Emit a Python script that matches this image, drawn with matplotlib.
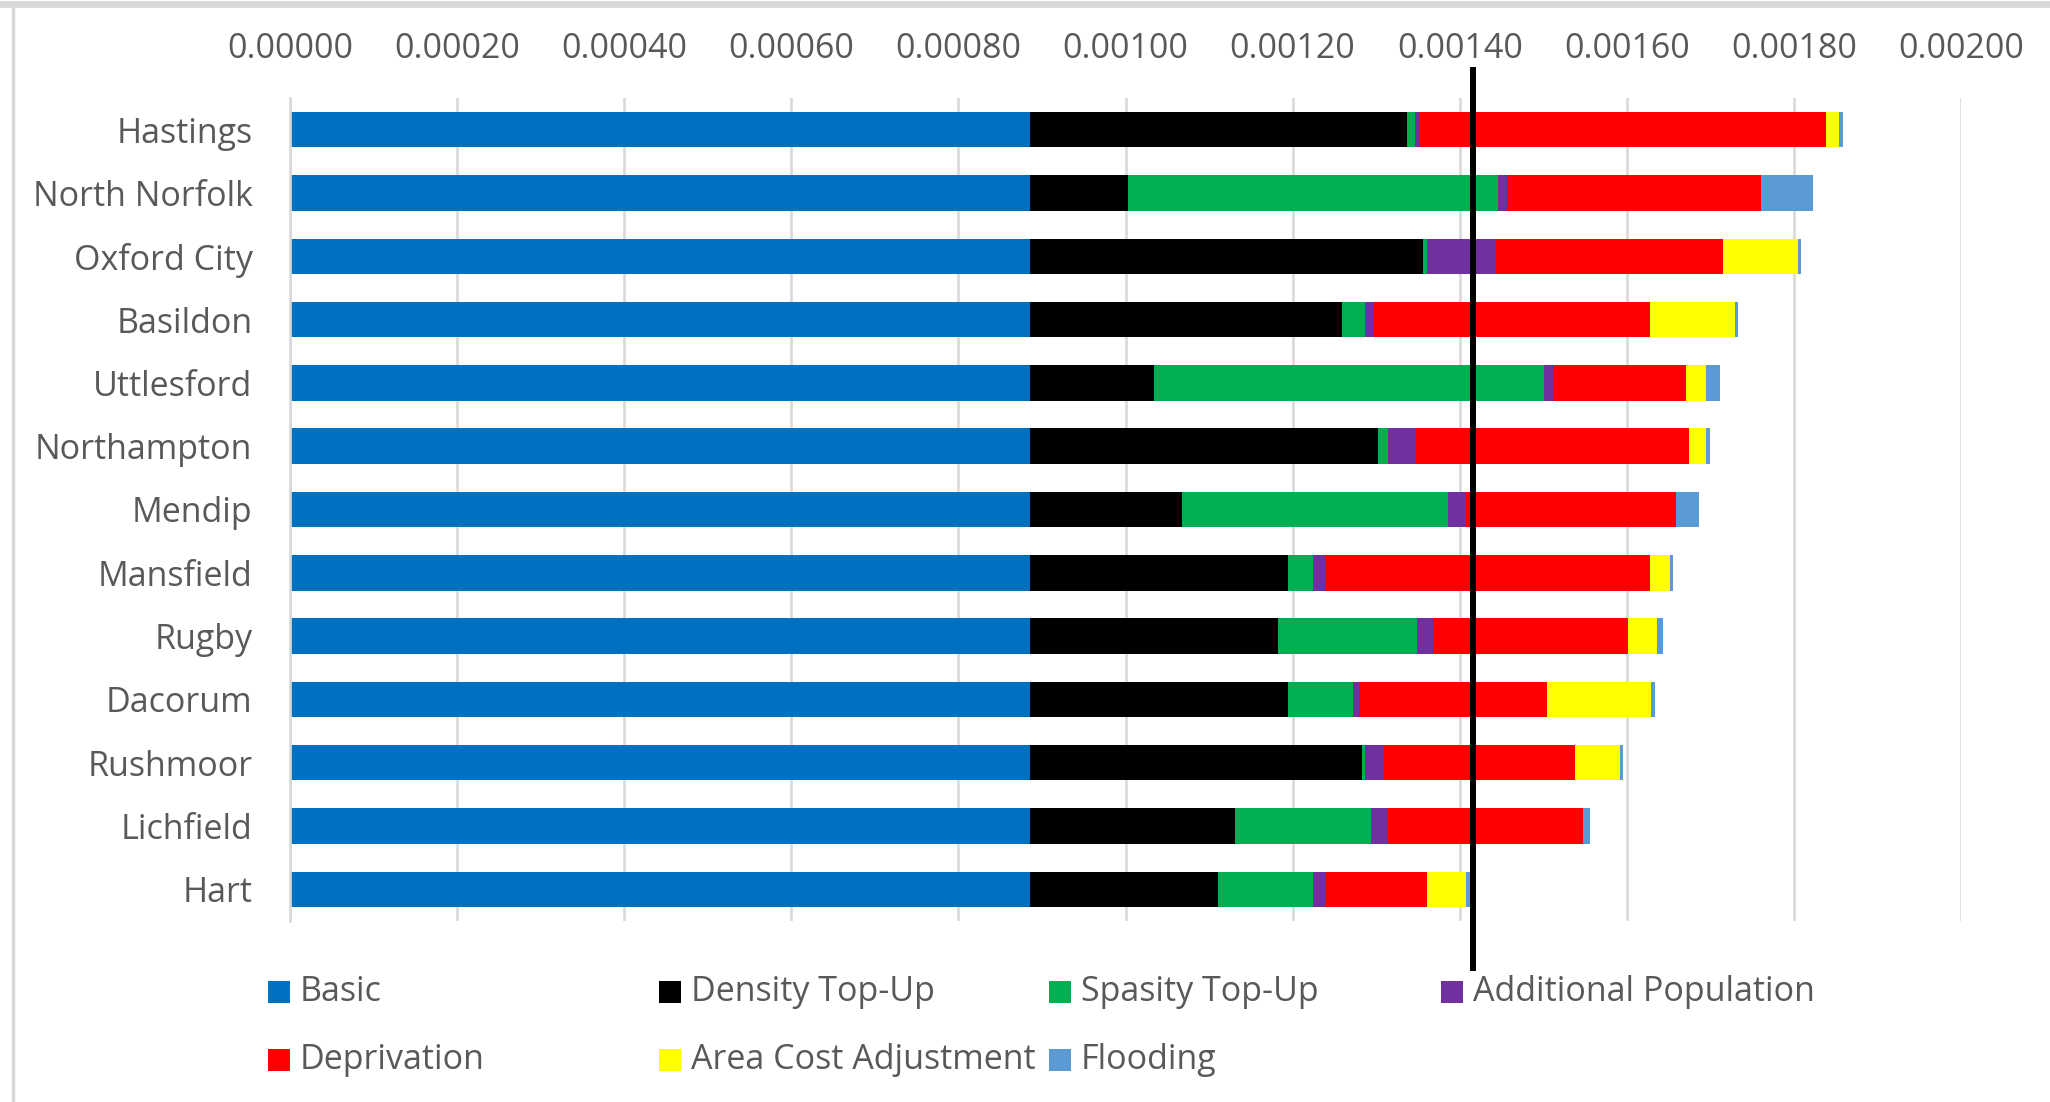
import matplotlib
matplotlib.use("Agg")
import matplotlib.pyplot as plt
from matplotlib.patches import Rectangle
from matplotlib.lines import Line2D
import numpy as np

plt.rcParams['font.family'] = ['Open Sans', 'DejaVu Sans']

categories = ["Hastings", "North Norfolk", "Oxford City", "Basildon", "Uttlesford",
              "Northampton", "Mendip", "Mansfield", "Rugby", "Dacorum", "Rushmoor",
              "Lichfield", "Hart"]

series_names = ["Basic", "Density Top-Up", "Spasity Top-Up", "Additional Population",
                "Deprivation", "Area Cost Adjustment", "Flooding"]
series_colors = ["#0070C0", "#000000", "#00B050", "#7030A0", "#FF0000", "#FFFF00", "#5B9BD5"]

# values in units of 1e-5
basic        = [88.6, 88.6, 88.6, 88.6, 88.6, 88.6, 88.6, 88.6, 88.6, 88.6, 88.6, 88.6, 88.6]
density      = [45.1, 11.7, 47.0, 37.3, 14.8, 41.6, 18.2, 30.8, 29.6, 30.8, 39.7, 24.5, 22.5]
sparsity     = [0.9, 44.3, 0.5, 2.8, 46.7, 1.2, 31.8, 3.1, 16.7, 7.8, 0.4, 16.3, 11.4]
add_pop      = [0.7, 1.1, 8.2, 1.1, 1.2, 3.4, 2.2, 1.4, 1.9, 0.7, 2.2, 2.0, 1.4]
deprivation  = [48.5, 30.4, 27.2, 33.0, 15.8, 32.7, 25.1, 38.9, 23.4, 22.5, 22.9, 23.3, 12.2]
area_cost    = [1.6, 0.0, 9.0, 10.2, 2.4, 2.0, 0.0, 2.4, 3.4, 12.5, 5.4, 0.0, 4.6]
flooding     = [0.5, 6.2, 0.4, 0.3, 1.6, 0.4, 2.8, 0.3, 0.7, 0.5, 0.4, 0.9, 0.5]

reference_line = 0.001416
x_ticks = [0.0, 0.0002, 0.0004, 0.0006, 0.0008, 0.0010, 0.0012, 0.0014, 0.0016, 0.0018, 0.0020]

series_values = [basic, density, sparsity, add_pop, deprivation, area_cost, flooding]

W, H = 2050, 1102
fig = plt.figure(figsize=(W / 100, H / 100), dpi=100)
ax = fig.add_axes([290 / W, 1 - 921 / H, (1961 - 290) / W, (921 - 98) / H])

y = np.arange(len(categories))
left = np.zeros(len(categories))
for name, vals, col in zip(series_names, series_values, series_colors):
    v = np.array(vals) * 1e-5
    ax.barh(y, v, left=left, height=0.56, color=col, label=name, zorder=2)
    left += v

ax.set_ylim(len(categories) - 0.5, -0.5)
ax.set_xlim(0, 0.002)
ax.set_xticks(x_ticks)
ax.set_xticklabels([f"{t:.5f}" for t in x_ticks])
ax.xaxis.tick_top()
ax.set_yticks(y)
ax.set_yticklabels(categories)
ax.tick_params(axis='x', length=0, pad=23, labelsize=24.5, labelcolor="#595959")
ax.tick_params(axis='y', length=0, pad=27, labelsize=24.5, labelcolor="#595959")
ax.grid(axis='x', color="#D9D9D9", linewidth=1.9, zorder=0)
ax.set_axisbelow(True)
for s in ["top", "right", "bottom"]:
    ax.spines[s].set_visible(False)
ax.spines["left"].set_color("#D9D9D9")
ax.spines["left"].set_linewidth(1.9)

ax.axvline(reference_line, ymin=-0.057, ymax=1.034, color="black", linewidth=4.3,
           clip_on=False, zorder=5)

# chart border
fig.add_artist(Line2D([13 / W, 13 / W], [0, 1 - 4 / H], transform=fig.transFigure,
                      color="#D9D9D9", linewidth=2.5))
fig.add_artist(Line2D([0, 1], [1 - 4 / H, 1 - 4 / H], transform=fig.transFigure,
                      color="#D9D9D9", linewidth=5))

# legend (Excel-style, row-major, equal column widths)
col_x = [268, 659, 1049, 1441]
row_y = [992, 1060]
msize = 22
for i, (name, col) in enumerate(zip(series_names, series_colors)):
    r, c = divmod(i, 4)
    x0, yc = col_x[c], row_y[r]
    fig.add_artist(Rectangle((x0 / W, 1 - (yc + msize / 2) / H), msize / W, msize / H,
                             transform=fig.transFigure, facecolor=col, edgecolor="none"))
    fig.text((x0 + msize + 10) / W, 1 - yc / H, name, ha="left", va="center",
             fontsize=24.5, color="#595959")

fig.savefig("out.png", dpi=100)
